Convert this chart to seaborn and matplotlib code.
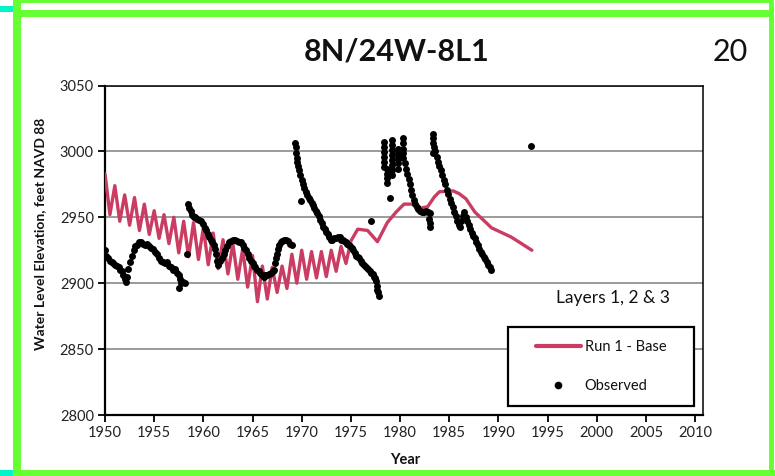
import matplotlib
matplotlib.use('Agg')
import matplotlib.pyplot as plt
import seaborn as sns
import pandas as pd
from matplotlib.patches import Rectangle
from matplotlib.lines import Line2D

# ---------------- data ----------------
title = "8N/24W-8L1"
page_no = "20"
layer_note = "Layers 1, 2 & 3"
x_label = "Year"
y_label = "Water Level Elevation, feet NAVD 88"
series_names = ["Run 1 - Base", "Observed"]
x_ticks = [1950, 1955, 1960, 1965, 1970, 1975, 1980, 1985, 1990, 1995, 2000, 2005, 2010]
y_ticks = [2800, 2850, 2900, 2950, 3000, 3050]

model_year = [1950.0, 1950.5, 1951.0, 1951.5, 1952.0, 1952.5, 1953.0, 1953.5, 1954.0, 1954.5,
              1955.0, 1955.5, 1956.0, 1956.5, 1957.0, 1957.5, 1958.0, 1958.5, 1959.0, 1959.5,
              1960.0, 1960.5, 1961.0, 1961.5, 1962.0, 1962.5, 1963.0, 1963.5, 1964.0, 1964.5,
              1965.0, 1965.5, 1966.0, 1966.5, 1967.0, 1967.5, 1968.0, 1968.5, 1969.0, 1969.5,
              1970.0, 1970.5, 1971.0, 1971.5, 1972.0, 1972.5, 1973.0, 1973.5, 1974.0, 1974.5,
              1975.0, 1975.7, 1976.7, 1977.7, 1978.7, 1979.6, 1980.4, 1981.3, 1982.1, 1982.8,
              1983.5, 1984.0, 1985.4, 1986.0, 1986.7, 1987.6, 1988.6, 1989.3, 1991.3, 1993.4]
model_value = [2983, 2952, 2974, 2947, 2967, 2944, 2965, 2940, 2960, 2937,
               2955, 2934, 2952, 2930, 2950, 2923, 2947, 2920, 2946, 2918,
               2942, 2914, 2938, 2911, 2933, 2907, 2930, 2903, 2926, 2897,
               2921, 2886, 2913, 2888, 2912, 2893, 2913, 2896, 2922, 2900,
               2925, 2903, 2924, 2904, 2924, 2905, 2925, 2909, 2928, 2915,
               2932, 2941, 2940, 2931.5, 2946, 2954, 2960, 2960, 2957, 2958,
               2965.6, 2969.4, 2970, 2968, 2964, 2954, 2947, 2942, 2935, 2925]

obs_year = [
    # 1950-1958
    1950.0, 1950.15, 1950.3, 1950.5, 1950.7, 1950.85, 1951.0, 1951.2, 1951.4, 1951.55,
    1951.7, 1951.85, 1952.0, 1952.15, 1952.25, 1952.35, 1952.5, 1952.7, 1952.9, 1953.1,
    1953.3, 1953.5, 1953.7, 1953.9, 1954.1, 1954.3, 1954.5, 1954.7, 1954.9, 1955.1,
    1955.3, 1955.5, 1955.7, 1955.9, 1956.1, 1956.3, 1956.5, 1956.7, 1956.9, 1957.1,
    1957.3, 1957.5, 1957.6, 1957.5, 1957.7, 1957.9, 1958.1, 1958.3,
    # 1958-1969
    1958.4, 1958.55, 1958.7, 1958.85, 1959.0, 1959.2, 1959.4, 1959.6, 1959.8, 1960.0,
    1960.15, 1960.3, 1960.45, 1960.6, 1960.75, 1960.9, 1961.05, 1961.2, 1961.3, 1961.4,
    1961.5, 1961.7, 1961.9, 1962.05, 1962.2, 1962.4, 1962.6, 1962.8, 1963.0, 1963.2,
    1963.4, 1963.6, 1963.8, 1964.0, 1964.15, 1964.3, 1964.5, 1964.65, 1964.8, 1965.0,
    1965.15, 1965.3, 1965.5, 1965.65, 1965.8, 1966.0, 1966.15, 1966.3, 1966.5, 1966.7,
    1966.9, 1967.05, 1967.2, 1967.3, 1967.35, 1967.45, 1967.55, 1967.7, 1967.85, 1968.0,
    1968.2, 1968.4, 1968.6, 1968.8, 1969.0,
    # 1969-1978
    1969.35, 1969.4, 1969.4, 1969.5, 1969.55, 1969.65, 1969.75, 1969.85, 1969.9, 1970.0,
    1970.1, 1970.25, 1970.4, 1970.55, 1970.7, 1970.85, 1971.0, 1971.15, 1971.3, 1971.45,
    1971.6, 1971.75, 1971.9, 1972.05, 1972.2, 1972.35, 1972.5, 1972.65, 1972.8, 1972.95,
    1973.1, 1973.3, 1973.5, 1973.7, 1973.85, 1974.0, 1974.15, 1974.3, 1974.5, 1974.65,
    1974.8, 1974.95, 1975.1, 1975.25, 1975.4, 1975.55, 1975.7, 1975.85, 1976.0, 1976.15,
    1976.3, 1976.5, 1976.7, 1976.9, 1977.05, 1977.2, 1977.35, 1977.5, 1977.6, 1977.65,
    1977.7, 1977.8, 1977.9, 1977.0,
    # 1978-1983
    1978.4, 1978.4, 1978.4, 1978.4, 1978.4, 1978.4,
    1978.7, 1978.7, 1978.7, 1978.7, 1979.0,
    1979.2, 1979.2, 1979.2, 1979.2, 1979.2, 1979.2, 1979.2, 1979.2,
    1979.8, 1979.8, 1979.8, 1979.8, 1979.8,
    1980.3, 1980.3, 1980.3, 1980.3, 1980.3,
    1980.5, 1980.6, 1980.75, 1980.9, 1981.0, 1981.1, 1981.25, 1981.4, 1981.55, 1981.7,
    1981.85, 1982.0, 1982.2, 1982.4, 1982.6, 1982.8, 1983.0, 1982.9, 1983.0, 1983.05,
    # 1983-1989
    1983.3, 1983.3, 1983.3, 1983.45, 1983.3, 1983.6, 1983.75, 1983.9, 1984.0, 1984.15,
    1984.3, 1984.45, 1984.6, 1984.75, 1984.9, 1985.05, 1985.2, 1985.35, 1985.5, 1985.65,
    1985.8, 1985.95, 1986.05, 1986.2, 1986.4, 1986.55, 1986.7, 1986.85, 1987.0, 1987.15,
    1987.3, 1987.45, 1987.6, 1987.75, 1987.9, 1988.05, 1988.2, 1988.35, 1988.5, 1988.65,
    1988.8, 1988.95, 1989.1, 1989.25,
    1993.3,
]
obs_value = [
    2925, 2921, 2919, 2917, 2916, 2915, 2914, 2913, 2912, 2910,
    2909, 2906, 2903, 2901, 2905, 2911, 2916, 2921, 2925, 2928,
    2929, 2931, 2931, 2930, 2929, 2930, 2928, 2927, 2926, 2924,
    2922, 2919, 2917, 2916, 2915, 2916, 2913, 2912, 2910, 2911,
    2908, 2906, 2903, 2896, 2900, 2901, 2900, 2922,
    2960, 2957, 2955, 2952, 2950, 2950, 2949, 2948, 2947, 2945,
    2942, 2940, 2937, 2935, 2933, 2931, 2929, 2926, 2922, 2917,
    2914, 2917, 2919, 2922, 2925, 2928, 2931, 2932, 2933, 2933,
    2932, 2931, 2931, 2929, 2927, 2925, 2922, 2919, 2917, 2915,
    2913, 2912, 2910, 2909, 2908, 2906, 2905, 2906, 2906, 2907,
    2908, 2909, 2910, 2915, 2919, 2922, 2926, 2929, 2931, 2932,
    2933, 2933, 2932, 2930, 2929,
    3006, 3003, 2999, 2995, 2992, 2989, 2986, 2982, 2962, 2978,
    2975, 2972, 2969, 2967, 2965, 2963, 2961, 2959, 2957, 2955,
    2953, 2951, 2948, 2946, 2943, 2941, 2939, 2937, 2935, 2933,
    2933, 2934, 2934, 2935, 2935, 2933, 2933, 2932, 2931, 2930,
    2929, 2928, 2927, 2925, 2923, 2921, 2920, 2919, 2917, 2915,
    2914, 2912, 2911, 2909, 2908, 2907, 2905, 2904, 2902, 2898,
    2895, 2893, 2890, 2947,
    3007, 3003.6, 2999.8, 2996, 2992, 2988,
    2987, 2983, 2980, 2976, 2965,
    3009, 3005, 3001, 2997, 2993.5, 2990, 2986, 2982,
    3002, 2999, 2995, 2991, 2987,
    3010, 3006, 3002, 2999, 2995,
    2991, 2987, 2983, 2979, 2975, 2971, 2967, 2963, 2960, 2958,
    2956, 2955, 2954, 2954, 2955, 2954, 2953, 2949, 2946, 2943,
    3013.5, 3010, 3006, 3003, 2999, 3000, 2996, 2992, 2989, 2986,
    2982, 2978, 2975, 2971, 2968, 2964, 2961, 2958, 2954, 2951,
    2947, 2944, 2943, 2947, 2951, 2954, 2950, 2947, 2944, 2941,
    2938, 2936, 2934, 2931, 2929, 2926, 2924, 2922, 2920, 2918,
    2916, 2914, 2912, 2910,
    3004,
]

# ---------------- style ----------------
LINE_COLOR = '#CB3C62'
GREEN = '#66FF33'
CYAN = '#00F5C8'
W, H = 775, 476

sns.set_theme(style='white')
plt.rcParams['font.family'] = ['Lato', 'DejaVu Sans']

fig = plt.figure(figsize=(W / 100, H / 100), dpi=100)
fig.patch.set_facecolor('white')

def fbox(x0, y0, x1, y1):
    """figure-fraction rect from pixel coords (top-left origin)"""
    return (x0 / W, 1 - y1 / H), (x1 - x0) / W, (y1 - y0) / H

ax = fig.add_axes([105 / W, 1 - 415 / H, (703 - 105) / W, (415 - 85.5) / H])
ax.set_facecolor('white')

model_df = pd.DataFrame({'year': model_year, 'value': model_value})
obs_df = pd.DataFrame({'year': obs_year, 'value': obs_value})

sns.lineplot(data=model_df, x='year', y='value', ax=ax, color=LINE_COLOR,
             linewidth=2.4, estimator=None, sort=False, legend=False, zorder=3)
sns.scatterplot(data=obs_df, x='year', y='value', ax=ax, color='black',
                s=25, linewidth=0, legend=False, zorder=4)

ax.set_xlim(1950, 2010.8)
ax.set_ylim(2800, 3050)
ax.set_xticks(x_ticks)
ax.set_yticks(y_ticks)
ax.set_xticklabels([str(t) for t in x_ticks])
ax.set_yticklabels([str(t) for t in y_ticks])
ax.set_xlabel('')
ax.set_ylabel('')
ax.grid(axis='y', color='#8a8a8a', linewidth=1.2)
ax.grid(axis='x', visible=False)
ax.set_axisbelow(True)
for side in ['left', 'bottom']:
    ax.spines[side].set_color('black')
    ax.spines[side].set_linewidth(1.6)
for side in ['top', 'right']:
    ax.spines[side].set_color('black')
    ax.spines[side].set_linewidth(1.1)
ax.tick_params(axis='both', direction='out', length=5, width=1.3, color='black',
               labelsize=10.5, labelcolor='#222222', pad=3,
               bottom=True, left=True, top=False, right=False)

# texts
fig.text(397 / W, 1 - 52 / H, title, ha='center', va='center', fontsize=22,
         fontweight='bold', color='#111111')
fig.text(730 / W, 1 - 52 / H, page_no, ha='center', va='center', fontsize=22,
         color='#111111')
fig.text(40 / W, 1 - 234 / H, y_label, ha='center', va='center', rotation=90,
         fontsize=10, fontweight='bold', color='#111111')
fig.text(405 / W, 1 - 460 / H, x_label, ha='center', va='center',
         fontsize=10.5, fontweight='bold', color='#111111')
fig.text(613 / W, 1 - 298 / H, layer_note, ha='center', va='center',
         fontsize=12.5, color='#111111')

# legend
xy, w, h = fbox(508, 327.3, 694.3, 405.7)
fig.add_artist(Rectangle(xy, w, h, transform=fig.transFigure, facecolor='white',
                         edgecolor='black', linewidth=1.6, zorder=5))
handles = [Line2D([], [], color=LINE_COLOR, linewidth=3),
           Line2D([], [], color='black', marker='o', markersize=4.5, linestyle='none')]
leg = fig.legend(handles, series_names, loc='center',
                 bbox_to_anchor=(601 / W, 1 - 366.5 / H), frameon=False,
                 fontsize=10.5, handlelength=3.1, handletextpad=0.25,
                 labelspacing=1.75, borderpad=0.2)
leg.set_zorder(6)
for t in leg.get_texts():
    t.set_color('#111111')

# green page frame
for (x0, y0, x1, y1, c) in [
    (13, 0, 773, 3, GREEN),
    (13, 10, 773, 17, GREEN),
    (13, 0, 21, 476, GREEN),
    (769, 0, 774, 472, GREEN),
    (13, 470, 775, 476, GREEN),
    (0, 6, 13, 12, CYAN),
    (0, 470, 13, 476, CYAN),
]:
    xy, w, h = fbox(x0, y0, x1, y1)
    fig.add_artist(Rectangle(xy, w, h, transform=fig.transFigure, facecolor=c,
                             edgecolor='none', zorder=10))

fig.savefig('out.png', dpi=100)
